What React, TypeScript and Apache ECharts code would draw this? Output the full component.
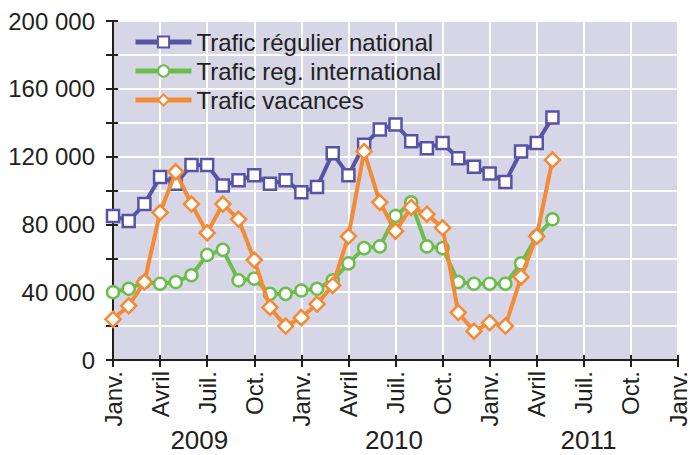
import React, { useEffect, useRef } from 'react';
import * as echarts from 'echarts';

const monthLabels = ['Janv.', 'Avril', 'Juil.', 'Oct.'];
const years = ['2009', '2010', '2011'];
const yearPositions = [5.5, 17.9, 30.3];
const seriesNames = ['Trafic régulier national', 'Trafic reg. international', 'Trafic vacances'];
// monthly values from Jan 2009 to May 2011
const national = [85000, 82000, 92000, 108000, 104000, 115000, 115000, 103000, 106000, 109000, 104000, 106000, 99000, 102000, 122000, 109000, 127000, 136000, 139000, 129000, 125000, 128000, 119000, 114000, 110000, 105000, 123000, 128000, 143000];
const international = [40000, 42000, 46000, 45000, 46000, 50000, 62000, 65000, 47000, 48000, 39000, 39000, 41000, 42000, 47000, 57000, 66000, 67000, 85000, 93000, 67000, 66000, 46000, 45000, 45000, 45000, 57000, 73000, 83000];
const vacances = [24000, 32000, 46000, 87000, 111000, 92000, 75000, 92000, 83000, 59000, 31000, 20000, 25000, 33000, 44000, 73000, 123000, 93000, 76000, 90000, 86000, 78000, 28000, 17000, 22000, 20000, 49000, 73000, 118000];

const colors = ['#5753a6', '#6cbd4c', '#f48a33'];
const symbols = ['rect', 'circle', 'diamond'];
const symbolSizes = [12, 12, 15];
const FONT = '"Liberation Sans", Arial, sans-serif';
const TEXT = '#231f20';

export default function App() {
  const ref = useRef<HTMLDivElement>(null);
  useEffect(() => {
    if (!ref.current) return;
    const chart = echarts.init(ref.current, null, { renderer: 'svg' });
    const all = [national, international, vacances];
    const fmt = (v: number) => String(v).replace(/\B(?=(\d{3})+(?!\d))/g, ' ');
    chart.setOption({
      animation: false,
      textStyle: { fontFamily: FONT },
      grid: {
        left: 113, right: 6, top: 21, bottom: 95,
        show: true, backgroundColor: '#d6d6e6', borderWidth: 0,
      },
      legend: {
        orient: 'vertical', left: 128, top: 25,
        itemWidth: 56, itemHeight: 14, itemGap: 5,
        lineStyle: { width: 5 },
        textStyle: { fontSize: 24, color: TEXT, fontFamily: FONT },
        data: seriesNames,
      },
      xAxis: [
        {
          type: 'value', min: 0, max: 36, interval: 3,
          axisLine: { show: true, onZero: false, lineStyle: { color: TEXT, width: 2 } },
          axisTick: { show: true, length: 7, lineStyle: { color: TEXT, width: 2 } },
          splitLine: { show: true, lineStyle: { color: '#ffffff', width: 2 } },
          axisLabel: {
            rotate: 90, margin: 11, fontSize: 24, color: TEXT, fontFamily: FONT,
            formatter: (v: number) => monthLabels[Math.round(v / 3) % 4],
          },
        },
        {
          type: 'value', min: 0, max: 36, position: 'bottom',
          axisLine: { show: false }, axisTick: { show: false }, splitLine: { show: false },
          axisLabel: {
            show: true, customValues: yearPositions, margin: 67, fontSize: 26, color: TEXT, fontFamily: FONT,
            formatter: (v: number) => {
              const i = yearPositions.findIndex((p) => Math.abs(p - v) < 0.01);
              return i >= 0 ? years[i] : '';
            },
          },
        },
        {
          type: 'value', min: 0, max: 36, interval: 3, position: 'bottom',
          axisLine: { show: false }, splitLine: { show: false }, axisLabel: { show: false },
          axisTick: { show: true, inside: true, length: 5, lineStyle: { color: TEXT, width: 2 } },
        },
      ],
      yAxis: [
        {
          type: 'value', min: 0, max: 200000, interval: 20000,
          axisLine: { show: true, lineStyle: { color: TEXT, width: 2 } },
          axisTick: { show: true, length: 7, lineStyle: { color: TEXT, width: 2 } },
          splitLine: { show: true, lineStyle: { color: '#ffffff', width: 2 } },
          axisLabel: {
            margin: 18, fontSize: 24, color: TEXT, fontFamily: FONT,
            formatter: (v: number) => (v % 40000 === 0 ? fmt(v) : ''),
          },
        },
        {
          type: 'value', min: 0, max: 200000, interval: 20000, position: 'left',
          axisLine: { show: false }, splitLine: { show: false }, axisLabel: { show: false },
          axisTick: { show: true, inside: true, length: 5, lineStyle: { color: TEXT, width: 2 } },
        },
      ],
      series: all.map((arr, k) => ({
        name: seriesNames[k],
        type: 'line',
        xAxisIndex: 0,
        yAxisIndex: 0,
        data: arr.map((v, i) => [i, v]),
        symbol: symbols[k],
        symbolSize: symbolSizes[k],
        showAllSymbol: true,
        lineStyle: { color: colors[k], width: 4 },
        itemStyle: { color: '#ffffff', borderColor: colors[k], borderWidth: 2.5 },
        emphasis: { disabled: true },
        z: 2 + k,
      })),
    });
    return () => chart.dispose();
  }, []);
  return <div ref={ref} style={{ width: 690, height: 455, position: 'absolute', left: 0, top: 0 }} />;
}
